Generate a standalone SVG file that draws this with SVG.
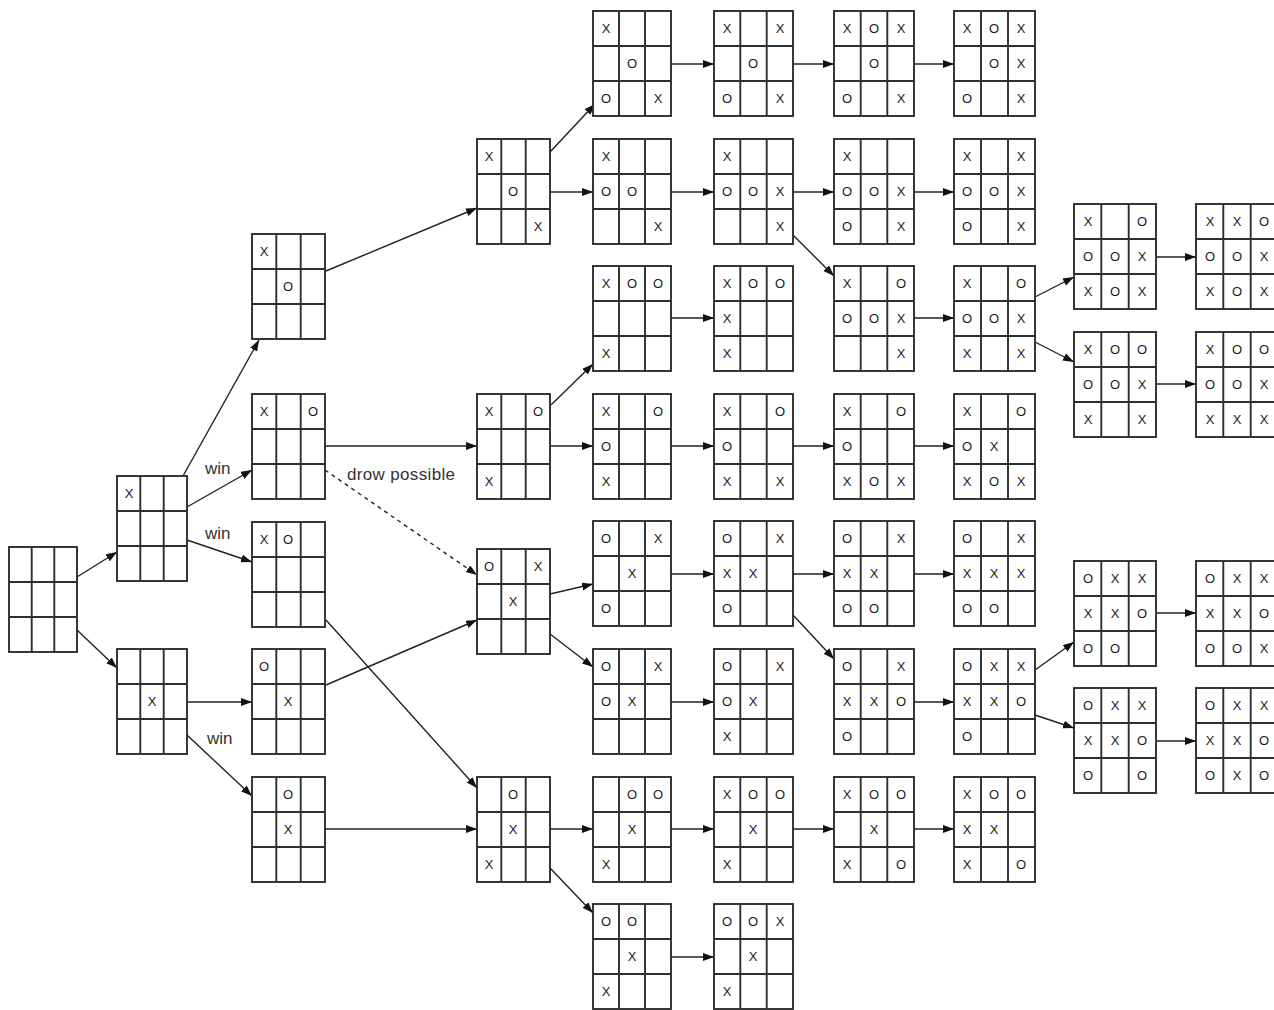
<svg xmlns="http://www.w3.org/2000/svg" xmlns:xlink="http://www.w3.org/1999/xlink" width="1274" height="1010" viewBox="0 0 1274 1010">
<style>
.grid{fill:#fff;stroke:#2e2e2e;stroke-width:1.9}
.m{font-family:"Liberation Sans",Arial,sans-serif;font-size:13px;text-anchor:middle;dominant-baseline:central;fill:#1a1a1a}
.lbl{font-family:"Liberation Sans",Arial,sans-serif;font-size:17px;fill:#333}
.c{fill:none;stroke:#222;stroke-width:1.4;marker-end:url(#ah)}
.d{stroke-dasharray:4 4}
</style>
<defs>
<marker id="ah" markerUnits="userSpaceOnUse" markerWidth="12" markerHeight="9" refX="11" refY="4" orient="auto"><path d="M0,0 L11,4 L0,8 z" fill="#111"/></marker>
<g id="w68" class="grid"><rect width="68" height="105"/><path d="M22.7 0v105M45.3 0v105M0 35h68M0 70h68"/></g>
<g id="w70" class="grid"><rect width="70" height="105"/><path d="M23.3 0v105M46.7 0v105M0 35h70M0 70h70"/></g>
<g id="w73" class="grid"><rect width="73" height="105"/><path d="M24.3 0v105M48.7 0v105M0 35h73M0 70h73"/></g>
<g id="w78" class="grid"><rect width="78" height="105"/><path d="M26 0v105M52 0v105M0 35h78M0 70h78"/></g>
<g id="w79" class="grid"><rect width="79" height="105"/><path d="M26.3 0v105M52.7 0v105M0 35h79M0 70h79"/></g>
<g id="w80" class="grid"><rect width="80" height="105"/><path d="M26.7 0v105M53.3 0v105M0 35h80M0 70h80"/></g>
<g id="w81" class="grid"><rect width="81" height="105"/><path d="M27 0v105M54 0v105M0 35h81M0 70h81"/></g>
<g id="w82" class="grid"><rect width="82" height="105"/><path d="M27.3 0v105M54.7 0v105M0 35h82M0 70h82"/></g>
</defs>
<rect width="1274" height="1010" fill="#fff"/>

<g id="connectors">
<path class="c" d="M77 577L117 552"/>
<path class="c" d="M77 630L117 668"/>
<path class="c" d="M183 476L259 340"/>
<path class="c" d="M187 507L252 470"/>
<path class="c" d="M187 540L252 562"/>
<path class="c" d="M187 702L252 702"/>
<path class="c" d="M187 735L252 796"/>
<path class="c" d="M326 271L477 208"/>
<path class="c" d="M325 446L477 446"/>
<path class="c d" d="M325 470L477 575"/>
<path class="c" d="M326 620L477 788"/>
<path class="c" d="M326 685L477 620"/>
<path class="c" d="M325 829L477 829"/>
<path class="c" d="M550 152L595 104"/>
<path class="c" d="M550 192L593 192"/>
<path class="c" d="M551 405L593 364"/>
<path class="c" d="M550 446L593 446"/>
<path class="c" d="M550 594L593 584"/>
<path class="c" d="M550 634L593 667"/>
<path class="c" d="M550 829L593 829"/>
<path class="c" d="M550 868L593 913"/>
<path class="c" d="M671 64L714 64"/>
<path class="c" d="M671 192L714 192"/>
<path class="c" d="M671 318L714 318"/>
<path class="c" d="M671 446L714 446"/>
<path class="c" d="M671 574L714 574"/>
<path class="c" d="M671 702L714 702"/>
<path class="c" d="M671 829L714 829"/>
<path class="c" d="M671 957L714 957"/>
<path class="c" d="M793 64L834 64"/>
<path class="c" d="M793 192L834 192"/>
<path class="c" d="M793 235L834 276"/>
<path class="c" d="M793 446L834 446"/>
<path class="c" d="M793 574L834 574"/>
<path class="c" d="M793 615L834 659"/>
<path class="c" d="M793 829L834 829"/>
<path class="c" d="M914 64L954 64"/>
<path class="c" d="M914 192L954 192"/>
<path class="c" d="M914 318L954 318"/>
<path class="c" d="M914 446L954 446"/>
<path class="c" d="M914 574L954 574"/>
<path class="c" d="M914 702L954 702"/>
<path class="c" d="M914 829L954 829"/>
<path class="c" d="M1035 297L1074 277"/>
<path class="c" d="M1035 342L1074 362"/>
<path class="c" d="M1035 670L1074 642"/>
<path class="c" d="M1035 715L1074 728"/>
<path class="c" d="M1156 257L1196 257"/>
<path class="c" d="M1156 384L1196 384"/>
<path class="c" d="M1156 613L1196 613"/>
<path class="c" d="M1156 741L1196 741"/>
<text class="lbl" x="205" y="474">win</text>
<text class="lbl" x="205" y="539">win</text>
<text class="lbl" x="207" y="744">win</text>
<text class="lbl" x="347" y="480" textLength="108">drow possible</text>
</g>

<g id="n-root"><use href="#w68" x="9" y="547"/></g>

<g id="n-c1-a"><use href="#w70" x="117" y="476"/><text class="m" x="129" y="493.5">X</text></g>
<g id="n-c1-b"><use href="#w70" x="117" y="649"/><text class="m" x="152" y="701.5">X</text></g>

<g id="n-c2-a"><use href="#w73" x="252" y="234"/><text class="m" x="264" y="251.5">X</text><text class="m" x="288" y="286.5">O</text></g>
<g id="n-c2-b"><use href="#w73" x="252" y="394"/><text class="m" x="264" y="411.5">X</text><text class="m" x="313" y="411.5">O</text></g>
<g id="n-c2-c"><use href="#w73" x="252" y="522"/><text class="m" x="264" y="539.5">X</text><text class="m" x="288" y="539.5">O</text></g>
<g id="n-c2-d"><use href="#w73" x="252" y="649"/><text class="m" x="264" y="666.5">O</text><text class="m" x="288" y="701.5">X</text></g>
<g id="n-c2-e"><use href="#w73" x="252" y="777"/><text class="m" x="288" y="794.5">O</text><text class="m" x="288" y="829.5">X</text></g>

<g id="n-c3-a"><use href="#w73" x="477" y="139"/><text class="m" x="489" y="156.5">X</text><text class="m" x="513" y="191.5">O</text><text class="m" x="538" y="226.5">X</text></g>
<g id="n-c3-b"><use href="#w73" x="477" y="394"/><text class="m" x="489" y="411.5">X</text><text class="m" x="538" y="411.5">O</text><text class="m" x="489" y="481.5">X</text></g>
<g id="n-c3-c"><use href="#w73" x="477" y="549"/><text class="m" x="489" y="566.5">O</text><text class="m" x="538" y="566.5">X</text><text class="m" x="513" y="601.5">X</text></g>
<g id="n-c3-d"><use href="#w73" x="477" y="777"/><text class="m" x="513" y="794.5">O</text><text class="m" x="513" y="829.5">X</text><text class="m" x="489" y="864.5">X</text></g>

<g id="n-c4-0"><use href="#w78" x="593" y="11"/><text class="m" x="606" y="28.5">X</text><text class="m" x="632" y="63.5">O</text><text class="m" x="606" y="98.5">O</text><text class="m" x="658" y="98.5">X</text></g>
<g id="n-c4-1"><use href="#w78" x="593" y="139"/><text class="m" x="606" y="156.5">X</text><text class="m" x="606" y="191.5">O</text><text class="m" x="632" y="191.5">O</text><text class="m" x="658" y="226.5">X</text></g>
<g id="n-c4-2"><use href="#w78" x="593" y="266"/><text class="m" x="606" y="283.5">X</text><text class="m" x="632" y="283.5">O</text><text class="m" x="658" y="283.5">O</text><text class="m" x="606" y="353.5">X</text></g>
<g id="n-c4-3"><use href="#w78" x="593" y="394"/><text class="m" x="606" y="411.5">X</text><text class="m" x="658" y="411.5">O</text><text class="m" x="606" y="446.5">O</text><text class="m" x="606" y="481.5">X</text></g>
<g id="n-c4-4"><use href="#w78" x="593" y="521"/><text class="m" x="606" y="538.5">O</text><text class="m" x="658" y="538.5">X</text><text class="m" x="632" y="573.5">X</text><text class="m" x="606" y="608.5">O</text></g>
<g id="n-c4-5"><use href="#w78" x="593" y="649"/><text class="m" x="606" y="666.5">O</text><text class="m" x="658" y="666.5">X</text><text class="m" x="606" y="701.5">O</text><text class="m" x="632" y="701.5">X</text></g>
<g id="n-c4-6"><use href="#w78" x="593" y="777"/><text class="m" x="632" y="794.5">O</text><text class="m" x="658" y="794.5">O</text><text class="m" x="632" y="829.5">X</text><text class="m" x="606" y="864.5">X</text></g>
<g id="n-c4-7"><use href="#w78" x="593" y="904"/><text class="m" x="606" y="921.5">O</text><text class="m" x="632" y="921.5">O</text><text class="m" x="632" y="956.5">X</text><text class="m" x="606" y="991.5">X</text></g>

<g id="n-c5-0"><use href="#w79" x="714" y="11"/><text class="m" x="727" y="28.5">X</text><text class="m" x="780" y="28.5">X</text><text class="m" x="753" y="63.5">O</text><text class="m" x="727" y="98.5">O</text><text class="m" x="780" y="98.5">X</text></g>
<g id="n-c5-1"><use href="#w79" x="714" y="139"/><text class="m" x="727" y="156.5">X</text><text class="m" x="727" y="191.5">O</text><text class="m" x="753" y="191.5">O</text><text class="m" x="780" y="191.5">X</text><text class="m" x="780" y="226.5">X</text></g>
<g id="n-c5-2"><use href="#w79" x="714" y="266"/><text class="m" x="727" y="283.5">X</text><text class="m" x="753" y="283.5">O</text><text class="m" x="780" y="283.5">O</text><text class="m" x="727" y="318.5">X</text><text class="m" x="727" y="353.5">X</text></g>
<g id="n-c5-3"><use href="#w79" x="714" y="394"/><text class="m" x="727" y="411.5">X</text><text class="m" x="780" y="411.5">O</text><text class="m" x="727" y="446.5">O</text><text class="m" x="727" y="481.5">X</text><text class="m" x="780" y="481.5">X</text></g>
<g id="n-c5-4"><use href="#w79" x="714" y="521"/><text class="m" x="727" y="538.5">O</text><text class="m" x="780" y="538.5">X</text><text class="m" x="727" y="573.5">X</text><text class="m" x="753" y="573.5">X</text><text class="m" x="727" y="608.5">O</text></g>
<g id="n-c5-5"><use href="#w79" x="714" y="649"/><text class="m" x="727" y="666.5">O</text><text class="m" x="780" y="666.5">X</text><text class="m" x="727" y="701.5">O</text><text class="m" x="753" y="701.5">X</text><text class="m" x="727" y="736.5">X</text></g>
<g id="n-c5-6"><use href="#w79" x="714" y="777"/><text class="m" x="727" y="794.5">X</text><text class="m" x="753" y="794.5">O</text><text class="m" x="780" y="794.5">O</text><text class="m" x="753" y="829.5">X</text><text class="m" x="727" y="864.5">X</text></g>
<g id="n-c5-7"><use href="#w79" x="714" y="904"/><text class="m" x="727" y="921.5">O</text><text class="m" x="753" y="921.5">O</text><text class="m" x="780" y="921.5">X</text><text class="m" x="753" y="956.5">X</text><text class="m" x="727" y="991.5">X</text></g>

<g id="n-c6-0"><use href="#w80" x="834" y="11"/><text class="m" x="847" y="28.5">X</text><text class="m" x="874" y="28.5">O</text><text class="m" x="901" y="28.5">X</text><text class="m" x="874" y="63.5">O</text><text class="m" x="847" y="98.5">O</text><text class="m" x="901" y="98.5">X</text></g>
<g id="n-c6-1"><use href="#w80" x="834" y="139"/><text class="m" x="847" y="156.5">X</text><text class="m" x="847" y="191.5">O</text><text class="m" x="874" y="191.5">O</text><text class="m" x="901" y="191.5">X</text><text class="m" x="847" y="226.5">O</text><text class="m" x="901" y="226.5">X</text></g>
<g id="n-c6-2"><use href="#w80" x="834" y="266"/><text class="m" x="847" y="283.5">X</text><text class="m" x="901" y="283.5">O</text><text class="m" x="847" y="318.5">O</text><text class="m" x="874" y="318.5">O</text><text class="m" x="901" y="318.5">X</text><text class="m" x="901" y="353.5">X</text></g>
<g id="n-c6-3"><use href="#w80" x="834" y="394"/><text class="m" x="847" y="411.5">X</text><text class="m" x="901" y="411.5">O</text><text class="m" x="847" y="446.5">O</text><text class="m" x="847" y="481.5">X</text><text class="m" x="874" y="481.5">O</text><text class="m" x="901" y="481.5">X</text></g>
<g id="n-c6-4"><use href="#w80" x="834" y="521"/><text class="m" x="847" y="538.5">O</text><text class="m" x="901" y="538.5">X</text><text class="m" x="847" y="573.5">X</text><text class="m" x="874" y="573.5">X</text><text class="m" x="847" y="608.5">O</text><text class="m" x="874" y="608.5">O</text></g>
<g id="n-c6-5"><use href="#w80" x="834" y="649"/><text class="m" x="847" y="666.5">O</text><text class="m" x="901" y="666.5">X</text><text class="m" x="847" y="701.5">X</text><text class="m" x="874" y="701.5">X</text><text class="m" x="901" y="701.5">O</text><text class="m" x="847" y="736.5">O</text></g>
<g id="n-c6-6"><use href="#w80" x="834" y="777"/><text class="m" x="847" y="794.5">X</text><text class="m" x="874" y="794.5">O</text><text class="m" x="901" y="794.5">O</text><text class="m" x="874" y="829.5">X</text><text class="m" x="847" y="864.5">X</text><text class="m" x="901" y="864.5">O</text></g>

<g id="n-c7-0"><use href="#w81" x="954" y="11"/><text class="m" x="967" y="28.5">X</text><text class="m" x="994" y="28.5">O</text><text class="m" x="1021" y="28.5">X</text><text class="m" x="994" y="63.5">O</text><text class="m" x="1021" y="63.5">X</text><text class="m" x="967" y="98.5">O</text><text class="m" x="1021" y="98.5">X</text></g>
<g id="n-c7-1"><use href="#w81" x="954" y="139"/><text class="m" x="967" y="156.5">X</text><text class="m" x="1021" y="156.5">X</text><text class="m" x="967" y="191.5">O</text><text class="m" x="994" y="191.5">O</text><text class="m" x="1021" y="191.5">X</text><text class="m" x="967" y="226.5">O</text><text class="m" x="1021" y="226.5">X</text></g>
<g id="n-c7-2"><use href="#w81" x="954" y="266"/><text class="m" x="967" y="283.5">X</text><text class="m" x="1021" y="283.5">O</text><text class="m" x="967" y="318.5">O</text><text class="m" x="994" y="318.5">O</text><text class="m" x="1021" y="318.5">X</text><text class="m" x="967" y="353.5">X</text><text class="m" x="1021" y="353.5">X</text></g>
<g id="n-c7-3"><use href="#w81" x="954" y="394"/><text class="m" x="967" y="411.5">X</text><text class="m" x="1021" y="411.5">O</text><text class="m" x="967" y="446.5">O</text><text class="m" x="994" y="446.5">X</text><text class="m" x="967" y="481.5">X</text><text class="m" x="994" y="481.5">O</text><text class="m" x="1021" y="481.5">X</text></g>
<g id="n-c7-4"><use href="#w81" x="954" y="521"/><text class="m" x="967" y="538.5">O</text><text class="m" x="1021" y="538.5">X</text><text class="m" x="967" y="573.5">X</text><text class="m" x="994" y="573.5">X</text><text class="m" x="1021" y="573.5">X</text><text class="m" x="967" y="608.5">O</text><text class="m" x="994" y="608.5">O</text></g>
<g id="n-c7-5"><use href="#w81" x="954" y="649"/><text class="m" x="967" y="666.5">O</text><text class="m" x="994" y="666.5">X</text><text class="m" x="1021" y="666.5">X</text><text class="m" x="967" y="701.5">X</text><text class="m" x="994" y="701.5">X</text><text class="m" x="1021" y="701.5">O</text><text class="m" x="967" y="736.5">O</text></g>
<g id="n-c7-6"><use href="#w81" x="954" y="777"/><text class="m" x="967" y="794.5">X</text><text class="m" x="994" y="794.5">O</text><text class="m" x="1021" y="794.5">O</text><text class="m" x="967" y="829.5">X</text><text class="m" x="994" y="829.5">X</text><text class="m" x="967" y="864.5">X</text><text class="m" x="1021" y="864.5">O</text></g>

<g id="n-c8-a"><use href="#w82" x="1074" y="204"/><text class="m" x="1088" y="221.5">X</text><text class="m" x="1142" y="221.5">O</text><text class="m" x="1088" y="256.5">O</text><text class="m" x="1115" y="256.5">O</text><text class="m" x="1142" y="256.5">X</text><text class="m" x="1088" y="291.5">X</text><text class="m" x="1115" y="291.5">O</text><text class="m" x="1142" y="291.5">X</text></g>
<g id="n-c8-b"><use href="#w82" x="1074" y="332"/><text class="m" x="1088" y="349.5">X</text><text class="m" x="1115" y="349.5">O</text><text class="m" x="1142" y="349.5">O</text><text class="m" x="1088" y="384.5">O</text><text class="m" x="1115" y="384.5">O</text><text class="m" x="1142" y="384.5">X</text><text class="m" x="1088" y="419.5">X</text><text class="m" x="1142" y="419.5">X</text></g>
<g id="n-c8-c"><use href="#w82" x="1074" y="561"/><text class="m" x="1088" y="578.5">O</text><text class="m" x="1115" y="578.5">X</text><text class="m" x="1142" y="578.5">X</text><text class="m" x="1088" y="613.5">X</text><text class="m" x="1115" y="613.5">X</text><text class="m" x="1142" y="613.5">O</text><text class="m" x="1088" y="648.5">O</text><text class="m" x="1115" y="648.5">O</text></g>
<g id="n-c8-d"><use href="#w82" x="1074" y="688"/><text class="m" x="1088" y="705.5">O</text><text class="m" x="1115" y="705.5">X</text><text class="m" x="1142" y="705.5">X</text><text class="m" x="1088" y="740.5">X</text><text class="m" x="1115" y="740.5">X</text><text class="m" x="1142" y="740.5">O</text><text class="m" x="1088" y="775.5">O</text><text class="m" x="1142" y="775.5">O</text></g>

<g id="n-c9-a"><use href="#w82" x="1196" y="204"/><text class="m" x="1210" y="221.5">X</text><text class="m" x="1237" y="221.5">X</text><text class="m" x="1264" y="221.5">O</text><text class="m" x="1210" y="256.5">O</text><text class="m" x="1237" y="256.5">O</text><text class="m" x="1264" y="256.5">X</text><text class="m" x="1210" y="291.5">X</text><text class="m" x="1237" y="291.5">O</text><text class="m" x="1264" y="291.5">X</text></g>
<g id="n-c9-b"><use href="#w82" x="1196" y="332"/><text class="m" x="1210" y="349.5">X</text><text class="m" x="1237" y="349.5">O</text><text class="m" x="1264" y="349.5">O</text><text class="m" x="1210" y="384.5">O</text><text class="m" x="1237" y="384.5">O</text><text class="m" x="1264" y="384.5">X</text><text class="m" x="1210" y="419.5">X</text><text class="m" x="1237" y="419.5">X</text><text class="m" x="1264" y="419.5">X</text></g>
<g id="n-c9-c"><use href="#w82" x="1196" y="561"/><text class="m" x="1210" y="578.5">O</text><text class="m" x="1237" y="578.5">X</text><text class="m" x="1264" y="578.5">X</text><text class="m" x="1210" y="613.5">X</text><text class="m" x="1237" y="613.5">X</text><text class="m" x="1264" y="613.5">O</text><text class="m" x="1210" y="648.5">O</text><text class="m" x="1237" y="648.5">O</text><text class="m" x="1264" y="648.5">X</text></g>
<g id="n-c9-d"><use href="#w82" x="1196" y="688"/><text class="m" x="1210" y="705.5">O</text><text class="m" x="1237" y="705.5">X</text><text class="m" x="1264" y="705.5">X</text><text class="m" x="1210" y="740.5">X</text><text class="m" x="1237" y="740.5">X</text><text class="m" x="1264" y="740.5">O</text><text class="m" x="1210" y="775.5">O</text><text class="m" x="1237" y="775.5">X</text><text class="m" x="1264" y="775.5">O</text></g>
</svg>
